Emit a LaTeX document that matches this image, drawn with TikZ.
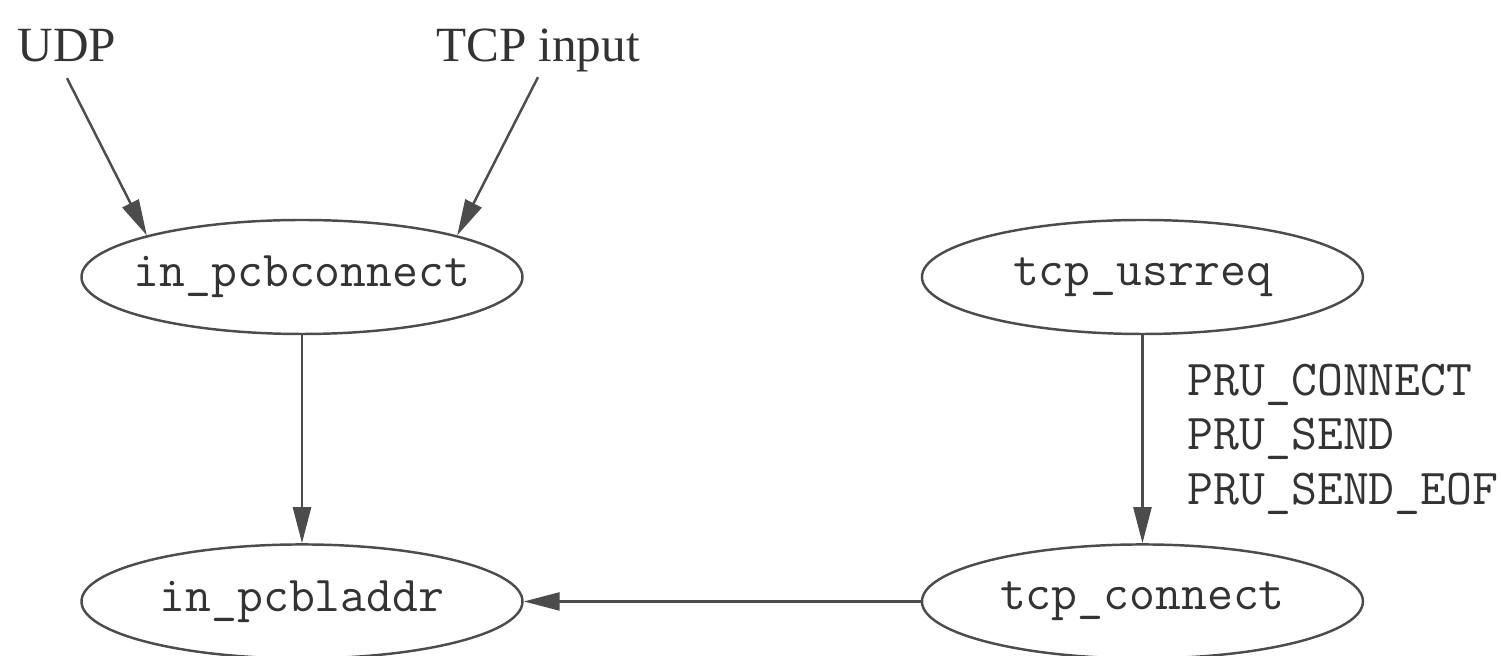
\documentclass[tikz,border=0pt]{standalone}
\usepackage{fontspec}
\usepackage{tikz}
\usetikzlibrary{positioning}
\usetikzlibrary{arrows.meta}
\usetikzlibrary{shapes.geometric}

\newfontfamily\callerfont{Liberation Serif}

\tikzset{
  func/.style={draw=black!70, line width=0.7pt, ellipse,
    minimum width=4.41cm, minimum height=1.14cm,
    inner xsep=-0.14cm, inner ysep=0pt,
    text=black!80, font=\fontsize{14.3}{16}\selectfont\ttfamily},
  caller/.style={inner sep=0pt, text=black!80,
    font=\fontsize{14}{16}\callerfont},
  flow/.style={draw=black!70, line width=0.7pt,
    -{Triangle[length=3.6mm,width=1.8mm]}},
}

\begin{document}
\begin{tikzpicture}
\useasboundingbox (-3.02,-3.79) rectangle (11.99,2.77);

% Functions
\node[func] (pcbconnect) at (0,0) {in\_pcbconnect};
\node[func, right=3.97cm of pcbconnect] (usrreq) {tcp\_usrreq};
\node[func, below=2.08cm of pcbconnect] (pcbladdr) {in\_pcbladdr};
\node[func, below=2.08cm of usrreq] (tcpconnect) {tcp\_connect};

% Callers
\node[caller, anchor=base] (udp) at (-2.35,2.15) {UDP};
\node[caller, anchor=base] (tcpinput) at (2.36,2.15) {TCP input};

% Arrows
\draw[flow] ([yshift=-0.15cm]udp.south) -- (pcbconnect.165);
\draw[flow] ([yshift=-0.04cm]tcpinput.south) -- (pcbconnect.15);
\draw[flow] (pcbconnect) -- (pcbladdr);

\draw[flow] (usrreq) -- (tcpconnect)
    node[midway, anchor=west, xshift=0.44cm, inner sep=0pt,
         align=left, text=black!80, font=\fontsize{14.3}{15.5}\selectfont\ttfamily]
    {PRU\_CONNECT\\PRU\_SEND\\PRU\_SEND\_EOF};

\draw[flow] (tcpconnect) -- (pcbladdr);

\end{tikzpicture}
\end{document}
